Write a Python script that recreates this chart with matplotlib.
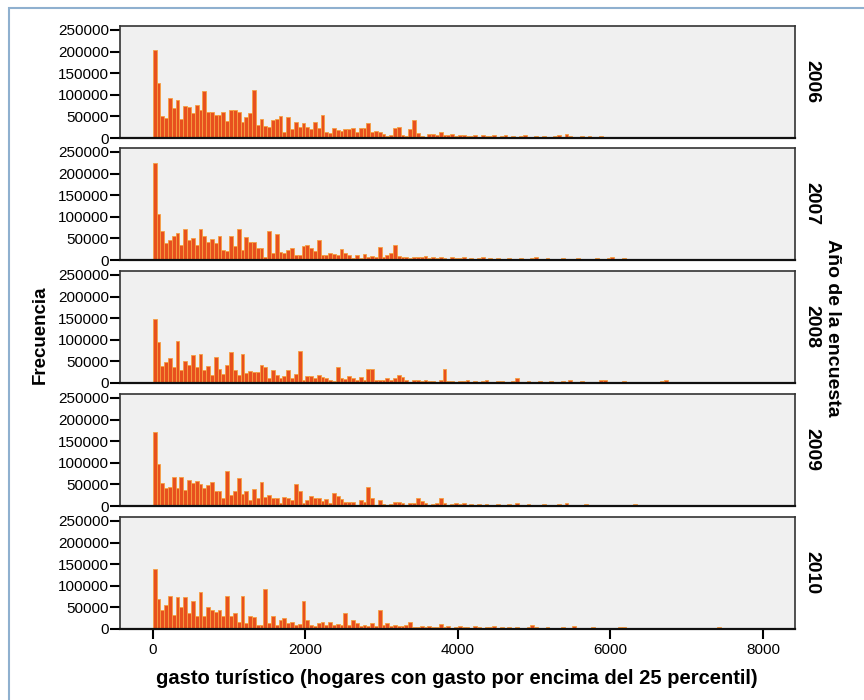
import matplotlib
matplotlib.use("Agg")
import matplotlib.pyplot as plt
import numpy as np
from matplotlib.patches import Rectangle

plt.rcParams['font.family'] = ['Liberation Sans', 'DejaVu Sans']

# histogram bins of 50 (euros), 0 to 8000; counts in thousands
BIN = 50
anios = ["2006", "2007", "2008", "2009", "2010"]

frec_2006 = [
    203, 127, 51, 46, 93, 69, 89, 45, 75, 72, 57, 77, 65, 108, 61, 61, 54, 54, 59, 40,
    65, 65, 59, 36, 49, 57, 112, 30, 45, 27, 25, 42, 45, 50, 15, 48, 20, 37, 25, 35,
    25, 20, 37, 22, 54, 15, 12, 22, 18, 17, 20, 20, 22, 15, 22, 22, 35, 13, 17, 15,
    10, 5, 8, 22, 25, 8, 5, 20, 42, 12, 5, 3, 10, 10, 7, 14, 8, 6, 10, 5,
    6, 8, 4, 5, 8, 3, 6, 4, 5, 7, 3, 4, 6, 2, 5, 3, 4, 6, 2, 3,
    4, 2, 5, 3, 2, 4, 6, 3, 10, 4, 2, 3, 5, 2, 4, 3, 2, 4, 2, 3,
    2, 3, 2, 2, 2, 3, 2, 2, 2, 2, 2, 2, 3, 2, 2, 2, 2, 2, 2, 2,
    2, 2, 2, 2, 2, 2, 2, 2, 2, 2, 2, 2, 2, 2, 2, 2, 2, 2, 0, 0,
]
frec_2007 = [
    224, 106, 67, 39, 47, 55, 63, 35, 71, 47, 51, 35, 71, 55, 41, 49, 39, 55, 24, 20,
    55, 33, 71, 24, 53, 41, 41, 28, 28, 8, 68, 16, 59, 18, 17, 24, 28, 12, 12, 33,
    35, 28, 20, 47, 12, 12, 17, 13, 12, 25, 16, 12, 4, 12, 4, 14, 8, 10, 6, 30,
    8, 12, 16, 35, 10, 8, 8, 4, 6, 8, 6, 10, 5, 6, 4, 8, 5, 3, 6, 4,
    4, 6, 3, 5, 2, 4, 6, 3, 4, 2, 5, 3, 2, 4, 3, 2, 5, 3, 2, 4,
    6, 3, 2, 4, 3, 2, 3, 5, 2, 3, 2, 4, 2, 3, 2, 2, 4, 2, 3, 5,
    6, 3, 2, 5, 3, 2, 3, 2, 2, 3, 2, 2, 3, 2, 2, 2, 2, 2, 3, 2,
    2, 2, 2, 3, 2, 2, 2, 2, 2, 2, 2, 2, 2, 2, 2, 2, 2, 2, 0, 0,
]
frec_2008 = [
    147, 94, 39, 48, 58, 36, 98, 31, 50, 42, 65, 36, 67, 30, 39, 18, 60, 33, 20, 42,
    71, 30, 18, 66, 22, 27, 26, 26, 42, 37, 11, 30, 18, 11, 16, 30, 11, 20, 75, 7,
    16, 16, 12, 18, 14, 11, 8, 5, 37, 11, 9, 16, 11, 7, 14, 8, 33, 33, 7, 7,
    7, 11, 7, 11, 18, 14, 7, 3, 7, 7, 5, 6, 4, 5, 3, 6, 33, 4, 5, 3,
    5, 4, 6, 3, 5, 3, 4, 6, 2, 3, 5, 4, 3, 2, 4, 11, 3, 2, 4, 3,
    3, 4, 2, 3, 5, 2, 3, 4, 2, 6, 3, 2, 4, 3, 2, 3, 2, 8, 7, 3,
    2, 3, 2, 4, 2, 3, 2, 2, 3, 2, 2, 2, 2, 5, 6, 2, 2, 2, 2, 2,
    2, 2, 2, 2, 2, 2, 2, 2, 3, 2, 2, 2, 2, 2, 2, 2, 2, 2, 0, 0,
]
frec_2009 = [
    170, 97, 53, 42, 43, 68, 42, 68, 38, 59, 53, 57, 50, 42, 48, 55, 35, 34, 18, 81,
    26, 35, 65, 28, 35, 14, 39, 18, 55, 20, 26, 18, 18, 6, 20, 18, 14, 50, 35, 6,
    14, 22, 18, 18, 12, 16, 6, 30, 22, 16, 10, 9, 9, 3, 14, 10, 43, 18, 3, 14,
    4, 3, 4, 9, 9, 6, 3, 6, 6, 18, 12, 6, 3, 5, 8, 18, 6, 3, 4, 6,
    4, 6, 3, 5, 2, 4, 3, 5, 2, 3, 4, 2, 3, 5, 2, 8, 3, 2, 4, 3,
    2, 3, 5, 2, 3, 2, 4, 2, 6, 3, 2, 3, 2, 4, 2, 3, 2, 2, 3, 2,
    2, 2, 3, 2, 2, 2, 4, 2, 2, 2, 2, 2, 2, 2, 3, 2, 2, 2, 2, 2,
    2, 2, 2, 2, 2, 2, 2, 2, 2, 2, 2, 2, 2, 3, 2, 2, 2, 2, 0, 0,
]
frec_2010 = [
    138, 69, 44, 56, 77, 33, 73, 50, 74, 37, 64, 29, 86, 30, 50, 44, 40, 44, 29, 77,
    30, 38, 17, 77, 13, 30, 27, 9, 9, 93, 13, 30, 9, 21, 25, 13, 16, 9, 11, 64,
    21, 9, 7, 13, 17, 9, 16, 9, 12, 9, 38, 9, 21, 13, 6, 9, 7, 15, 7, 44,
    9, 13, 6, 9, 7, 6, 9, 17, 4, 4, 6, 5, 8, 5, 4, 12, 4, 6, 3, 5,
    6, 4, 5, 3, 6, 4, 3, 5, 4, 6, 3, 4, 2, 5, 3, 4, 3, 2, 4, 9,
    4, 3, 2, 4, 3, 2, 3, 5, 2, 3, 7, 3, 2, 3, 2, 4, 2, 3, 2, 3,
    3, 2, 4, 5, 2, 3, 2, 2, 3, 2, 2, 2, 3, 2, 2, 2, 2, 2, 3, 2,
    2, 2, 2, 2, 2, 3, 2, 2, 4, 2, 2, 2, 2, 2, 2, 2, 2, 2, 0, 0,
]
frecuencias = [frec_2006, frec_2007, frec_2008, frec_2009, frec_2010]

W, H = 864, 700
fig = plt.figure(figsize=(W / 100, H / 100), dpi=100)

# light blue frame around the output
fig.add_artist(Rectangle((9 / W, -0.05), 1.2, 1 - 8 / H + 0.05,
                         transform=fig.transFigure, fill=False,
                         edgecolor='#8fb0cf', linewidth=1.5))

panel_tops = [26, 148, 271, 394, 517]
panel_h = 112
left, right = 120, 795

for i, (anio, frec) in enumerate(zip(anios, frecuencias)):
    top = panel_tops[i]
    ax = fig.add_axes([left / W, 1 - (top + panel_h) / H,
                       (right - left) / W, panel_h / H])
    ax.set_facecolor('#f0f0f0')
    edges = np.arange(len(frec)) * BIN
    ax.bar(edges, np.array(frec) * 1000, width=BIN, align='edge',
           color='#e8501e', edgecolor='#f6a040', linewidth=0.6)
    ax.set_xlim(-430, 8420)
    ax.set_ylim(0, 259000)
    ax.set_yticks([0, 50000, 100000, 150000, 200000, 250000])
    ax.tick_params(axis='y', length=7, width=1.5, labelsize=11, pad=1)
    for s in ax.spines.values():
        s.set_color('#333333')
        s.set_linewidth(1.2)
    ax.spines['bottom'].set_color('#111111')
    ax.spines['bottom'].set_linewidth(1.6)
    ax.text(1.012, 0.5, anio, transform=ax.transAxes, rotation=270,
            ha='left', va='center', fontsize=14, fontweight='bold')
    if i < 4:
        ax.set_xticks([])
    else:
        ax.set_xticks([0, 2000, 4000, 6000, 8000])
        ax.tick_params(axis='x', length=7, width=1.5, labelsize=11, pad=3)

fig.text(40 / W, 1 - 335 / H, 'Frecuencia', rotation=90, ha='center',
         va='center', fontsize=13.5, fontweight='bold')
fig.text(833 / W, 1 - 328 / H, 'Año de la encuesta', rotation=270,
         ha='center', va='center', fontsize=14, fontweight='bold')
fig.text(457 / W, 1 - 678 / H,
         'gasto turístico (hogares con gasto por encima del 25 percentil)',
         ha='center', va='center', fontsize=14.5, fontweight='bold')

fig.savefig('out.png', dpi=100)
